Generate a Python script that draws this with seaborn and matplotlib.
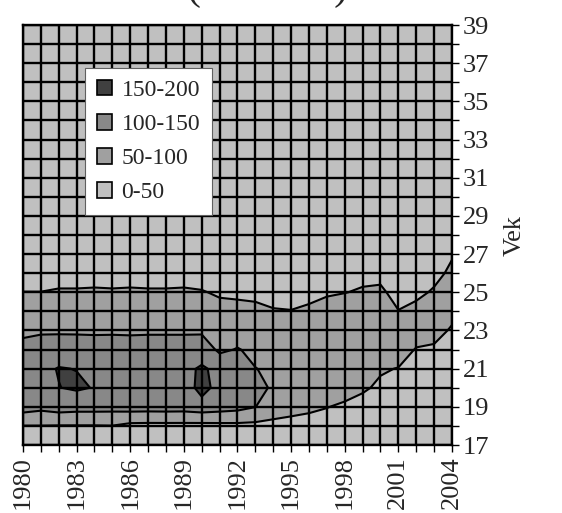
import numpy as np
import matplotlib
matplotlib.use("Agg")
import matplotlib.pyplot as plt
from matplotlib.patches import Patch
import seaborn as sns

years = list(range(1980, 2005))
ages = list(range(17, 40))

# values by age 17..39, one list per year
y1980 = [30, 49, 122, 135, 138, 115, 90, 70, 50.5, 35, 25, 19, 15, 12, 10, 8, 7, 6, 5, 4, 3, 2, 2]
y1981 = [28, 49, 113, 138, 140, 118, 95, 72, 50.5, 34, 24, 19, 15, 12, 10, 8, 7, 6, 5, 4, 3, 2, 2]
y1982 = [28, 48, 122, 149, 152, 128, 93, 70, 53, 38, 26, 19, 15, 12, 10, 8, 7, 6, 5, 4, 3, 2, 2]
y1983 = [27, 48, 118, 156, 149, 126, 93, 71, 53, 38, 27, 19, 15, 12, 10, 8, 7, 6, 5, 4, 3, 2, 2]
y1984 = [27, 48, 118, 148, 140, 125, 92, 72, 54, 38, 27, 19, 15, 12, 10, 8, 7, 6, 5, 4, 3, 2, 2]
y1985 = [26, 49, 117, 144, 142, 124, 93, 72, 53, 38, 27, 19, 15, 12, 10, 8, 7, 6, 5, 4, 3, 2, 2]
y1986 = [24, 38, 121, 143, 142, 123, 92, 72, 54, 38, 27, 19, 15, 12, 10, 8, 7, 6, 5, 4, 3, 2, 2]
y1987 = [23, 37, 120, 144, 143, 124, 93, 72, 53, 38, 27, 19, 15, 12, 10, 8, 7, 6, 5, 4, 3, 2, 2]
y1988 = [23, 37, 121, 140, 142, 124, 93, 72, 53, 38, 27, 19, 15, 12, 10, 8, 7, 6, 5, 4, 3, 2, 2]
y1989 = [22, 37, 120, 120, 140, 124, 93, 72, 54, 38, 28, 19, 15, 12, 10, 8, 7, 6, 5, 4, 3, 2, 2]
y1990 = [22, 36, 127, 170, 155, 130, 92, 68, 52, 36, 27, 19, 15, 12, 10, 8, 7, 6, 5, 4, 3, 2, 2]
y1991 = [22, 37.5, 121, 130, 140, 90, 78, 60, 46, 33, 25, 19, 15, 12, 10, 8, 6, 5, 4, 3, 2, 2, 1]
y1992 = [22, 38.5, 115, 128, 120, 103, 73, 58, 45, 32, 24, 19, 15, 12, 10, 8, 6, 5, 4, 3, 2, 2, 1]
y1993 = [22, 37.5, 101, 112, 101, 88, 72, 57, 43, 31, 23, 19, 15, 12, 10, 8, 6, 5, 4, 3, 2, 2, 1]
y1994 = [25, 42, 65, 95, 92, 85, 66, 52, 40, 29, 22, 19, 15, 12, 10, 8, 6, 5, 4, 3, 2, 2, 1]
y1995 = [24, 40, 60, 80, 88, 86, 68, 51, 38, 28, 21, 19, 15, 12, 10, 8, 6, 5, 4, 3, 2, 2, 1]
y1996 = [23, 38, 56, 75, 86, 88, 78, 55, 42, 32, 23, 21, 17, 13, 10, 8, 6, 5, 4, 3, 2, 2, 1]
y1997 = [22, 36, 51, 68, 82, 88, 82, 67, 45, 34, 25, 21, 17, 13, 10, 8, 6, 5, 4, 3, 2, 2, 1]
y1998 = [20, 32, 45, 63, 78, 86, 84, 71, 49, 37, 28, 21, 17, 13, 10, 8, 6, 5, 4, 3, 2, 2, 1]
y1999 = [19, 30, 40, 54, 72, 83, 85, 75, 54, 40, 29, 21, 17, 13, 10, 8, 6, 5, 4, 3, 2, 2, 1]
y2000 = [18, 27, 36, 45, 53, 70, 82, 78, 56, 41, 30, 24, 19, 15, 12, 9, 7, 6, 4, 3, 2, 2, 1]
y2001 = [16, 25, 32, 40, 49, 65, 76, 51, 38, 30, 24, 24, 19, 15, 12, 9, 7, 6, 4, 3, 2, 2, 1]
y2002 = [14, 22, 28, 34, 40, 48, 66, 60, 42, 31, 24, 24, 19, 15, 12, 9, 7, 6, 4, 3, 2, 2, 1]
y2003 = [12, 20, 26, 31, 37, 45, 62, 66, 54, 40, 30, 24, 19, 15, 12, 9, 7, 6, 4, 3, 2, 2, 1]
y2004 = [8, 17, 22, 27, 32, 38, 46, 60, 62, 57, 47, 38, 32, 27, 22, 18, 14, 11, 9, 7, 5, 3, 2]

columns = [y1980, y1981, y1982, y1983, y1984, y1985, y1986, y1987, y1988, y1989,
           y1990, y1991, y1992, y1993, y1994, y1995, y1996, y1997, y1998, y1999,
           y2000, y2001, y2002, y2003, y2004]

band_levels = [0, 50, 100, 150, 200]
band_labels = ["0-50", "50-100", "100-150", "150-200"]
band_colors = ["#C0C0C0", "#A0A0A0", "#888888", "#404040"]

sns.set_theme(style="ticks")
plt.rcParams["font.family"] = ["Liberation Serif", "DejaVu Serif"]

Z = np.array(columns).T  # rows = ages, cols = years

fig = plt.figure(figsize=(5.62, 5.13), dpi=100)
ax = fig.add_axes([23 / 562, 68 / 513, 429 / 562, 420 / 513])

ax.contourf(years, ages, Z, levels=band_levels, colors=band_colors)
ax.contour(years, ages, Z, levels=band_levels[1:-1], colors="black", linewidths=1.5)

ax.set_xlim(1980, 2004)
ax.set_ylim(17, 39)

ax.set_xticks(years[::3])
ax.set_xticks(years, minor=True)
ax.set_xticklabels([str(y) for y in years[::3]], rotation=90, fontsize=19)

ax.yaxis.tick_right()
ax.yaxis.set_label_position("right")
ax.set_yticks(ages[::2])
ax.set_yticks(ages, minor=True)
ax.set_yticklabels([str(a) for a in ages[::2]], fontsize=19)
ax.set_ylabel("Vek", fontsize=19, labelpad=10)

ax.tick_params(which="both", direction="out", length=5, width=1, color="black", pad=3)
ax.tick_params(axis="y", which="both", left=False, right=True)
ax.tick_params(axis="x", which="both", top=False, bottom=True)

ax.set_axisbelow(False)
ax.grid(which="both", color="black", linewidth=1.7)
for s in ax.spines.values():
    s.set_color("black")
    s.set_linewidth(1.7)

handles = [Patch(facecolor=c, edgecolor="black", linewidth=1.2, label=l)
           for c, l in zip(band_colors, band_labels)][::-1]
leg = ax.legend(handles=handles, loc="upper left", bbox_to_anchor=(0.1445, 0.898),
                borderaxespad=0, fontsize=17, frameon=True, fancybox=False,
                framealpha=1, edgecolor="#606060", handlelength=0.65,
                handleheight=0.65, handletextpad=0.4, labelspacing=0.55,
                borderpad=0.5)
leg.get_frame().set_linewidth(0.8)

# title sits mostly above the visible area, only the bottom of the brackets shows
fig.text(0.476, 1.0 - 8.5 / 513, "(na 1000)", ha="center", va="bottom", fontsize=30)

fig.savefig("out.png", dpi=100)
